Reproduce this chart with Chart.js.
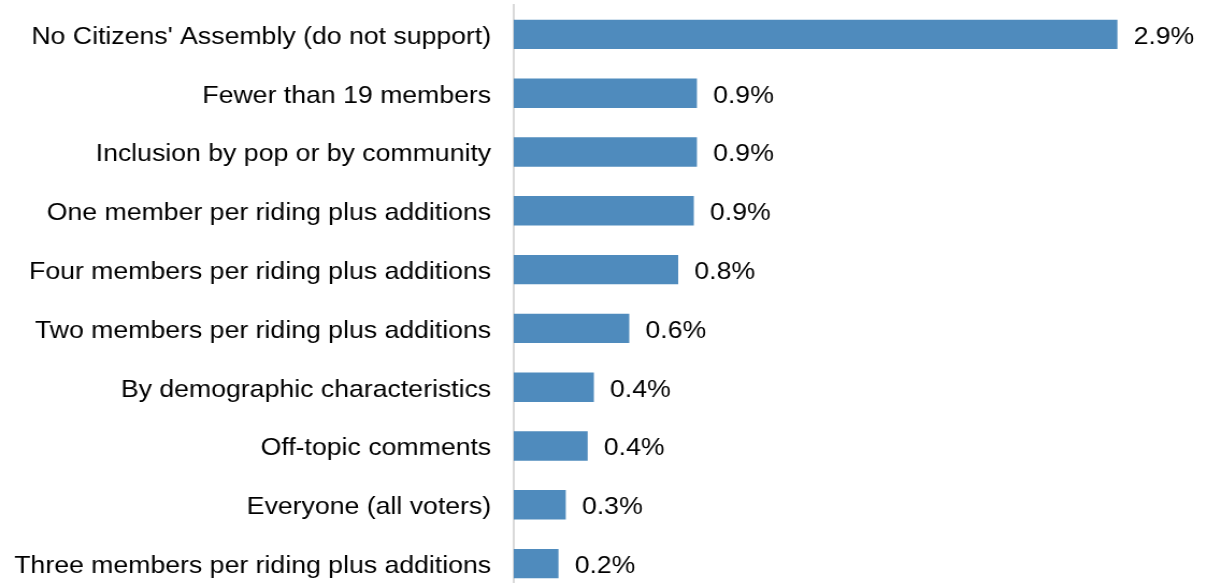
<!DOCTYPE html>
<html>
<head>
<meta charset="utf-8">
<script src="https://cdn.jsdelivr.net/npm/chart.js@4/dist/chart.umd.min.js"></script>
<style>
  html, body { margin: 0; padding: 0; background: #fff; overflow: hidden; }
  #wrap { width: 1123px; height: 593px; position: relative; transform: scaleX(1.0748); transform-origin: 0 0; }
</style>
</head>
<body>
<div id="wrap"><canvas id="c" width="1123" height="593"></canvas></div>
<script>
const categories = [
  "No Citizens' Assembly (do not support)",
  "Fewer than 19 members",
  "Inclusion by pop or by community",
  "One member per riding plus additions",
  "Four members per riding plus additions",
  "Two members per riding plus additions",
  "By demographic characteristics",
  "Off-topic comments",
  "Everyone (all voters)",
  "Three members per riding plus additions"
];
const values = [2.9, 0.88, 0.88, 0.865, 0.79, 0.555, 0.385, 0.355, 0.25, 0.215];
const valueLabels = ["2.9%", "0.9%", "0.9%", "0.9%", "0.8%", "0.6%", "0.4%", "0.4%", "0.3%", "0.2%"];

const valueLabelPlugin = {
  id: 'valueLabels',
  afterDatasetsDraw(chart) {
    const ctx = chart.ctx;
    const meta = chart.getDatasetMeta(0);
    ctx.save();
    ctx.font = '24.8px "Liberation Sans", Arial, sans-serif';
    ctx.fillStyle = '#000000';
    ctx.textAlign = 'left';
    ctx.textBaseline = 'middle';
    meta.data.forEach((bar, i) => {
      ctx.fillText(valueLabels[i], bar.x + 15, bar.y + 2.5);
    });
    ctx.restore();
  }
};

new Chart(document.getElementById('c'), {
  type: 'bar',
  data: {
    labels: categories,
    datasets: [{
      data: values,
      backgroundColor: '#4f8bbd',
      borderWidth: 0,
      barPercentage: 0.5,
      categoryPercentage: 1.0
    }]
  },
  options: {
    indexAxis: 'y',
    responsive: false,
    devicePixelRatio: 1,
    animation: false,
    layout: { padding: { top: 5, right: 64, bottom: 0, left: 0 } },
    plugins: { legend: { display: false }, tooltip: { enabled: false } },
    scales: {
      x: {
        min: 0, max: 3,
        display: false
      },
      y: {
        grid: { display: false, drawTicks: false },
        border: { display: true, color: '#d9d9d9', width: 2 },
        ticks: {
          color: '#000000',
          padding: 21,
          labelOffset: 2.5,
          font: { family: '"Liberation Sans", Arial, sans-serif', size: 24.8 }
        },
        afterFit(scale) {
          scale.width = 478;
          scale.paddingTop = 0;
          scale.paddingBottom = 0;
        }
      }
    }
  },
  plugins: [valueLabelPlugin]
});
</script>
</body>
</html>
